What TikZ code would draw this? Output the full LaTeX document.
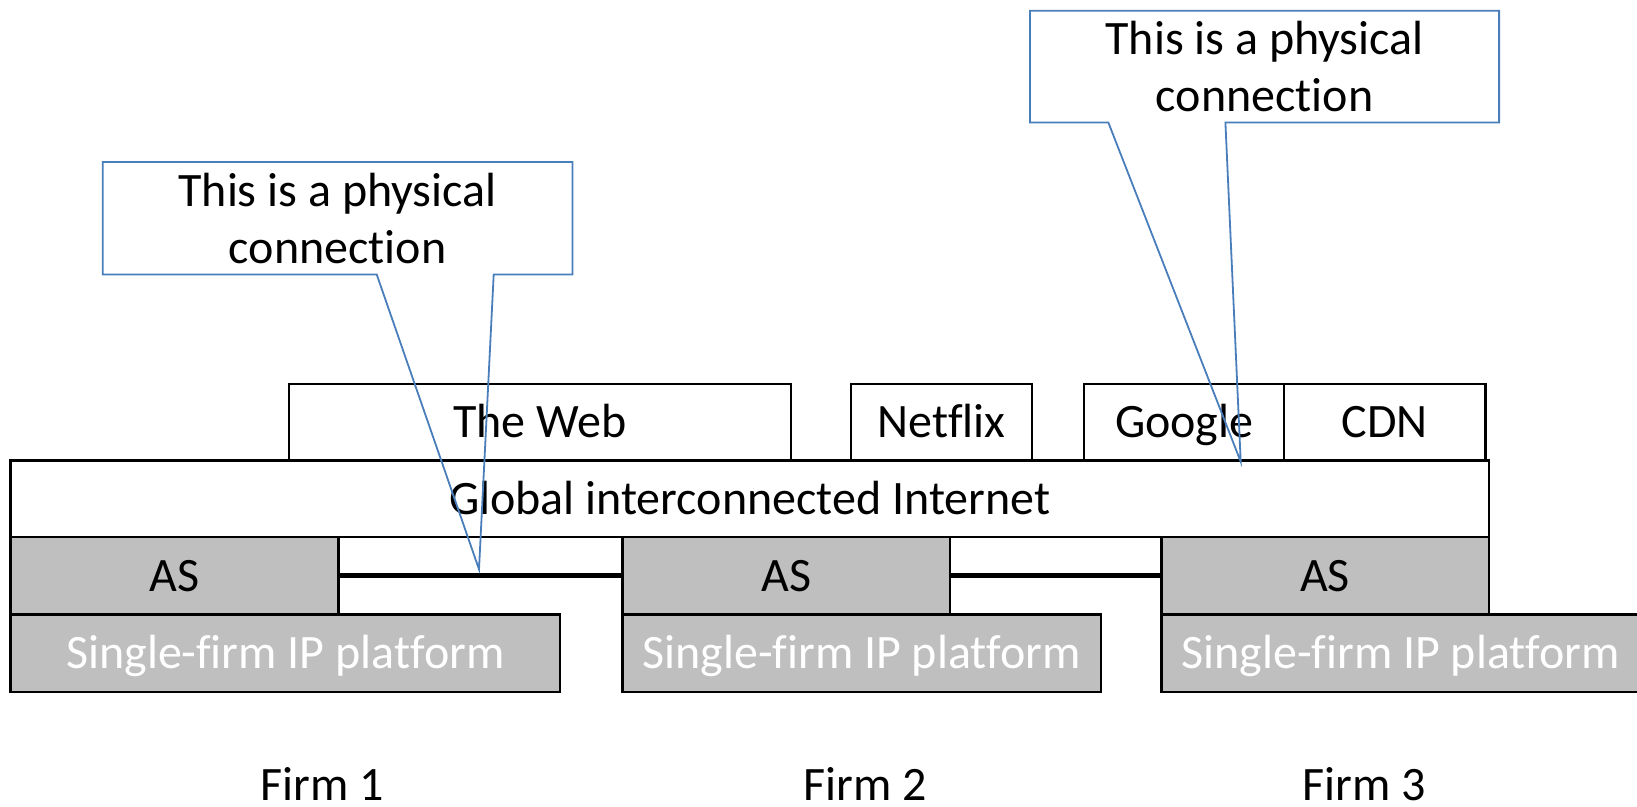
\documentclass[tikz,border=0pt]{standalone}
\usepackage{fontspec}
\setmainfont[Ligatures=NoCommon]{Carlito}
\definecolor{boxgray}{HTML}{BFBFBF}
\definecolor{calloutblue}{HTML}{4A7EBB}
\begin{document}
\begin{tikzpicture}[x=1pt,y=-1pt,
  txt/.style={font=\fontsize{48}{56.7}\selectfont},
  box/.style={txt,draw=black,line width=2.4pt,fill=white,inner sep=0pt,
    text height=31pt,text depth=0pt,anchor=north west},
  grey/.style={box,fill=boxgray},
  plat/.style={grey,text=white},
  link/.style={draw=black,line width=5.5pt},
  calltext/.style={txt,inner sep=0pt,align=center,anchor=north west},
  callout/.style={draw=calloutblue,line width=1.8pt,line join=miter},
  firm/.style={txt,anchor=base,inner sep=0pt,text depth=0pt}]
\useasboundingbox (0,0) rectangle (1637,806);

% top services
\node[box,minimum width=502.1pt,minimum height=76.6pt] (web) at (287.6,382.7) {The Web};
\node[box,minimum width=181.3pt,minimum height=76.6pt] (netflix) at (849.7,382.7) {Netflix};
\node[box,minimum width=200pt,minimum height=76.6pt] (google) at (1083,382.7) {Google};
\node[box,minimum width=201.4pt,minimum height=76.6pt] (cdn) at (1283,382.7) {CDN};

% global internet
\node[box,minimum width=1478.1pt,minimum height=76.4pt] (global) at (9.4,459.3) {Global interconnected Internet};

% autonomous systems
\node[grey,minimum width=327.9pt,minimum height=77.6pt] (as1) at (9.4,535.7) {AS};
\node[grey,minimum width=327.4pt,minimum height=77.6pt] (as2) at (621.3,535.7) {AS};
\node[grey,minimum width=327.2pt,minimum height=77.6pt] (as3) at (1160.3,535.7) {AS};

% platforms
\node[plat,minimum width=549.6pt,minimum height=77.7pt] (p1) at (9.4,613.3) {Single-firm IP platform};
\node[plat,minimum width=478.5pt,minimum height=77.7pt] (p2) at (621.3,613.3) {Single-firm IP platform};
\node[plat,minimum width=478.5pt,minimum height=77.7pt] (p3) at (1160.3,613.3) {Single-firm IP platform};

% physical links
\draw[link] (as1.east) -- (as2.west);
\draw[link] (as2.east) -- (as3.west);

% firm labels
\node[firm] (f1) at (322,800.5) {Firm 1};
\node[firm] (f2) at (865.5,800.5) {Firm 2};
\node[firm] (f3) at (1364,800.5) {Firm 3};

% callout 1
\node[calltext,minimum width=469.3pt,minimum height=112pt] (c1) at (102.7,162) {This is a physical\\connection};
\coordinate (t1) at (479,569.3);
\draw[callout] (c1.south west) -- (c1.north west) -- (c1.north east) -- (c1.south east)
  -- ([xshift=-78.7pt]c1.south east) -- (t1) -- ([xshift=274pt]c1.south west) -- cycle;

% callout 2
\node[calltext,minimum width=468.7pt,minimum height=111.3pt] (c2) at (1030,10.7) {This is a physical\\connection};
\coordinate (t2) at (1240.7,461.7);
\draw[callout] (c2.south west) -- (c2.north west) -- (c2.north east) -- (c2.south east)
  -- ([xshift=-273.7pt]c2.south east) -- (t2) -- ([xshift=78.3pt]c2.south west) -- cycle;
\end{tikzpicture}
\end{document}
